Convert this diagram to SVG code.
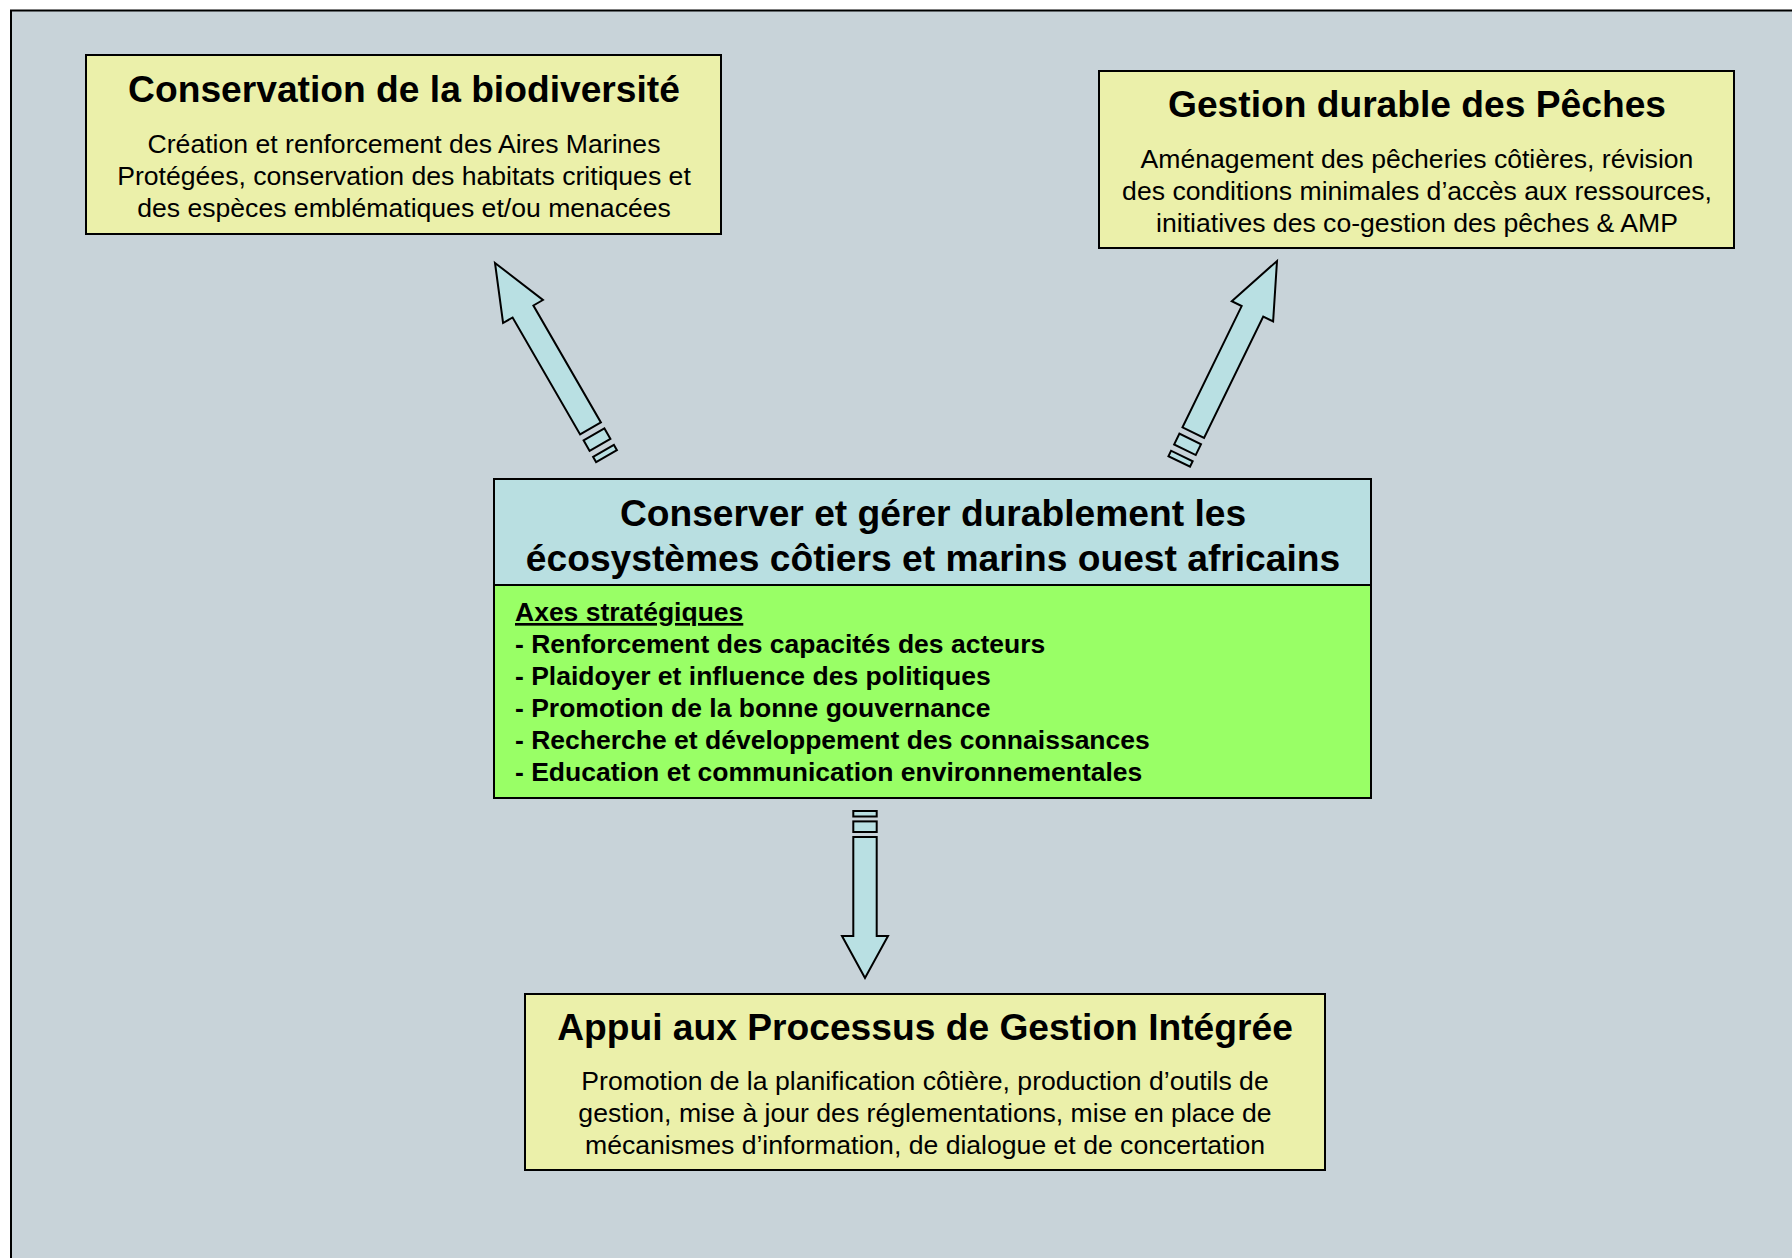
<svg xmlns="http://www.w3.org/2000/svg" width="1792" height="1258" viewBox="0 0 1792 1258">
<style>
text{font-family:"Liberation Sans",Arial,sans-serif;fill:#000}
.t{font-size:37.2px;font-weight:bold;text-anchor:middle}
.b{font-size:26.6px;text-anchor:middle}
.a{font-size:26.5px;font-weight:bold}
.box{fill:#EBF0AA;stroke:#000;stroke-width:2}
.arr{fill:#B9E0E3;stroke:#000;stroke-width:2;stroke-linejoin:miter}
</style>
<rect x="0" y="0" width="1792" height="1258" fill="#fff"/>
<rect x="11" y="10.5" width="1800" height="1300" fill="#C8D3D9" stroke="#000" stroke-width="2"/>
<g id="conservation">
<rect class="box" x="86" y="55" width="635" height="179"/>
<text class="t" x="404" y="102">Conservation de la biodiversité</text>
<text class="b" x="404" y="153">Création et renforcement des Aires Marines</text>
<text class="b" x="404" y="185">Protégées, conservation des habitats critiques et</text>
<text class="b" x="404" y="217">des espèces emblématiques et/ou menacées</text>
</g>
<g id="peches">
<rect class="box" x="1099" y="71" width="635" height="177"/>
<text class="t" x="1417" y="117">Gestion durable des Pêches</text>
<text class="b" x="1417" y="168">Aménagement des pêcheries côtières, révision</text>
<text class="b" x="1417" y="200">des conditions minimales d’accès aux ressources,</text>
<text class="b" x="1417" y="232">initiatives des co-gestion des pêches &amp; AMP</text>
</g>
<g id="centre">
<rect x="494" y="479" width="877" height="106" fill="#B9DFE1" stroke="#000" stroke-width="2"/>
<rect x="494" y="585" width="877" height="213" fill="#99FF66" stroke="#000" stroke-width="2"/>
<text class="t" x="933" y="526">Conserver et gérer durablement les</text>
<text class="t" x="933" y="571">écosystèmes côtiers et marins ouest africains</text>
<text class="a" x="515" y="621" text-decoration="underline">Axes stratégiques</text>
<text class="a" x="515" y="653">- Renforcement des capacités des acteurs</text>
<text class="a" x="515" y="685">- Plaidoyer et influence des politiques</text>
<text class="a" x="515" y="717">- Promotion de la bonne gouvernance</text>
<text class="a" x="515" y="749">- Recherche et développement des connaissances</text>
<text class="a" x="515" y="781">- Education et communication environnementales</text>
</g>
<g id="gestion-integree">
<rect class="box" x="525" y="994" width="800" height="176"/>
<text class="t" x="925" y="1040">Appui aux Processus de Gestion Intégrée</text>
<text class="b" x="925" y="1090">Promotion de la planification côtière, production d’outils de</text>
<text class="b" x="925" y="1122">gestion, mise à jour des réglementations, mise en place de</text>
<text class="b" x="925" y="1154">mécanismes d’information, de dialogue et de concertation</text>
</g>
<g id="connectors">
<g transform="translate(495,263) rotate(-30)">
<path class="arr" d="M0,0 L23,56 L12,56 L12,191 L-12,191 L-12,56 L-23,56 Z"/>
<rect class="arr" x="-12" y="198" width="24" height="12"/>
<rect class="arr" x="-12" y="217" width="24" height="6"/>
</g>
<g transform="translate(1277,261) rotate(26)">
<path class="arr" d="M0,0 L23,56 L12,56 L12,191 L-12,191 L-12,56 L-23,56 Z"/>
<rect class="arr" x="-12" y="198" width="24" height="12"/>
<rect class="arr" x="-12" y="217" width="24" height="6"/>
</g>
<g transform="translate(865,978) rotate(180)">
<path class="arr" d="M0,0 L23,42 L11.7,42 L11.7,141 L-11.7,141 L-11.7,42 L-23,42 Z"/>
<rect class="arr" x="-11.7" y="146" width="23.4" height="10.6"/>
<rect class="arr" x="-11.7" y="161.5" width="23.4" height="5.5"/>
</g>
</g>
</svg>
